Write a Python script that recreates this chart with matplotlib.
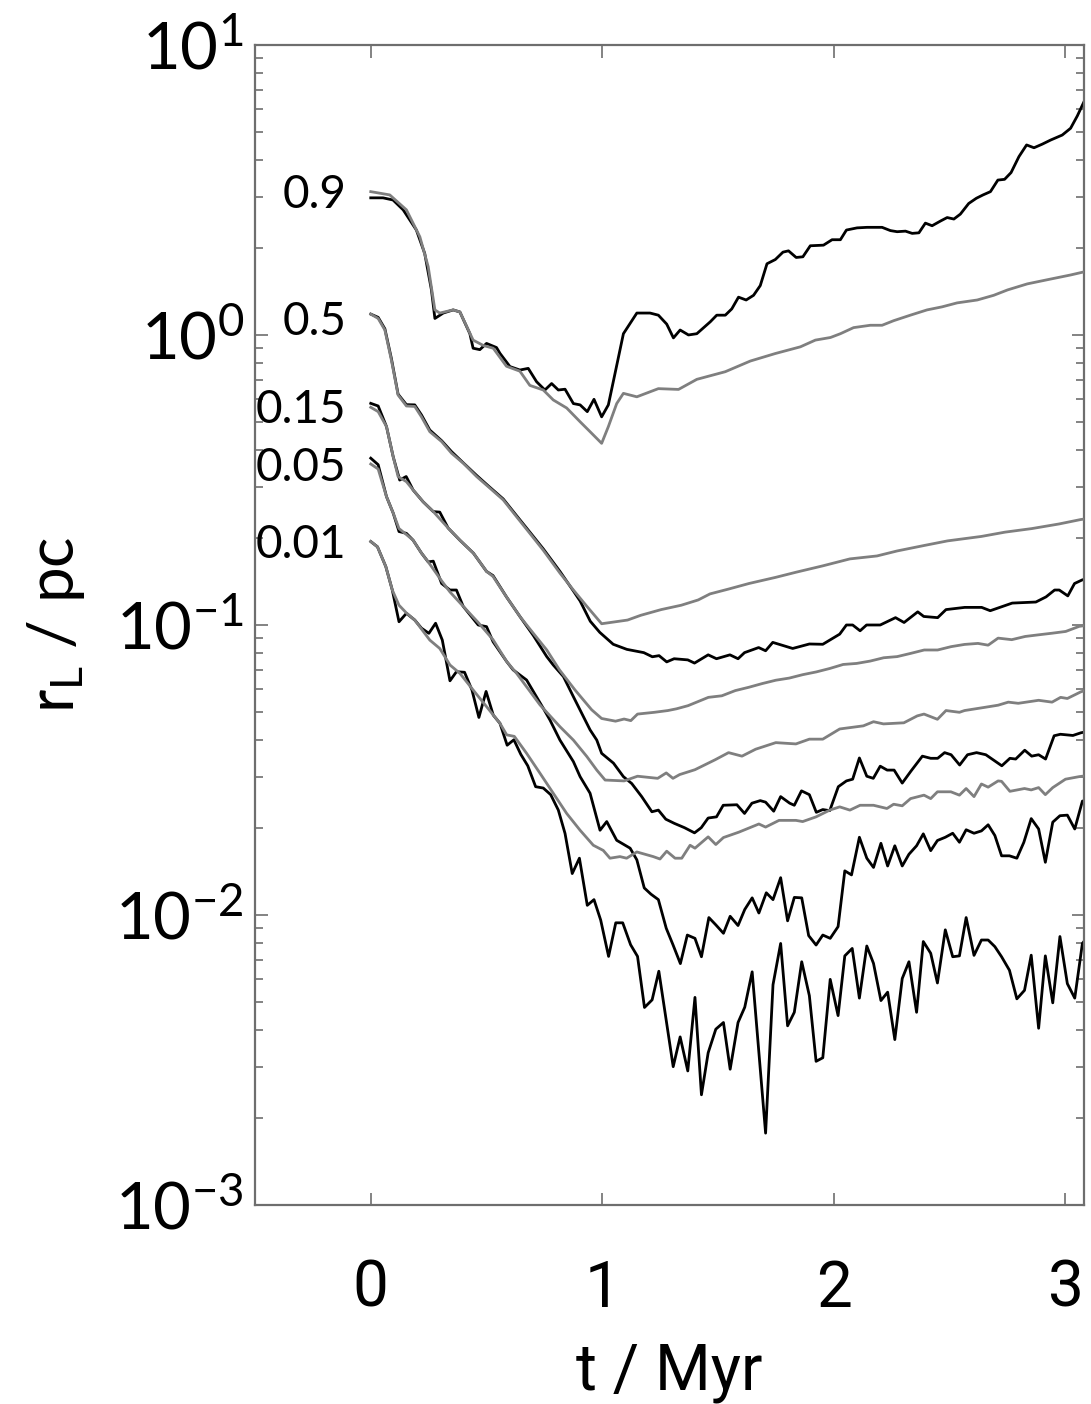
import numpy as np
import matplotlib
matplotlib.use("Agg")
import matplotlib.pyplot as plt
from matplotlib.ticker import LogLocator, NullFormatter, FixedLocator

plt.rcParams["font.family"] = ["Lato", "DejaVu Sans"]
plt.rcParams["mathtext.fontset"] = "custom"
plt.rcParams["mathtext.rm"] = "Lato"
plt.rcParams["mathtext.it"] = "Lato:italic"

# Lagrangian radii (t in Myr, r in pc); black = run with stars, gray = reference run
b90 = [(0.0, 2.97), (0.053, 2.97), (0.096, 2.92), (0.14, 2.70), (0.197, 2.30), (0.233, 1.91),
       (0.262, 1.43), (0.277, 1.14), (0.313, 1.19), (0.356, 1.22), (0.385, 1.20), (0.428, 1.01),
       (0.442, 0.90), (0.471, 0.89), (0.5, 0.935), (0.543, 0.905), (0.558, 0.864), (0.601, 0.778),
       (0.644, 0.757), (0.68, 0.767), (0.716, 0.69), (0.752, 0.646), (0.781, 0.68), (0.81, 0.646),
       (0.839, 0.65), (0.875, 0.58), (0.904, 0.574), (0.935, 0.544), (0.964, 0.60), (0.997, 0.522),
       (1.026, 0.574), (1.055, 0.738), (1.091, 1.01), (1.149, 1.19), (1.206, 1.19), (1.242, 1.17),
       (1.278, 1.09), (1.307, 0.977), (1.336, 1.04), (1.372, 1.0), (1.408, 1.01), (1.466, 1.11),
       (1.494, 1.17), (1.531, 1.17), (1.559, 1.23), (1.588, 1.35), (1.621, 1.32), (1.653, 1.37),
       (1.682, 1.48), (1.711, 1.76), (1.747, 1.82), (1.78, 1.93), (1.804, 1.95), (1.837, 1.85),
       (1.866, 1.86), (1.898, 2.03), (1.955, 2.04), (1.992, 2.13), (2.028, 2.13), (2.054, 2.30),
       (2.1, 2.34), (2.143, 2.35), (2.208, 2.35), (2.244, 2.29), (2.273, 2.27), (2.309, 2.28),
       (2.338, 2.24), (2.367, 2.25), (2.395, 2.43), (2.424, 2.38), (2.46, 2.47), (2.489, 2.54),
       (2.518, 2.51), (2.546, 2.61), (2.582, 2.84), (2.615, 2.96), (2.644, 3.04), (2.676, 3.12),
       (2.708, 3.42), (2.737, 3.44), (2.765, 3.63), (2.799, 4.12), (2.832, 4.52), (2.864, 4.42),
       (2.9, 4.55), (2.936, 4.70), (2.986, 4.89), (3.022, 5.16), (3.051, 5.69), (3.094, 6.73)]

g90 = [(0.0, 3.12), (0.082, 3.04), (0.154, 2.70), (0.212, 2.18), (0.248, 1.72), (0.277, 1.22),
       (0.298, 1.19), (0.356, 1.22), (0.385, 1.20), (0.442, 0.96), (0.486, 0.92), (0.529, 0.90),
       (0.586, 0.78), (0.644, 0.75), (0.687, 0.67), (0.745, 0.646), (0.788, 0.597), (0.846, 0.56),
       (0.904, 0.502), (0.947, 0.464), (0.997, 0.423), (1.026, 0.483), (1.062, 0.58), (1.091, 0.629),
       (1.149, 0.612), (1.242, 0.653), (1.329, 0.649), (1.408, 0.703), (1.531, 0.747), (1.639, 0.813),
       (1.747, 0.863), (1.855, 0.91), (1.92, 0.96), (1.985, 0.98), (2.028, 1.01), (2.085, 1.06),
       (2.157, 1.08), (2.208, 1.08), (2.258, 1.12), (2.33, 1.17), (2.402, 1.22), (2.467, 1.25),
       (2.532, 1.29), (2.619, 1.32), (2.69, 1.37), (2.75, 1.43), (2.835, 1.50), (2.921, 1.55),
       (3.022, 1.61), (3.094, 1.66)]

b50 = [(0.0, 1.18), (0.032, 1.15), (0.061, 1.05), (0.089, 0.83), (0.118, 0.625), (0.154, 0.575),
       (0.19, 0.574), (0.219, 0.53), (0.255, 0.47), (0.306, 0.432), (0.349, 0.396), (0.4, 0.362),
       (0.457, 0.328), (0.507, 0.302), (0.572, 0.272), (0.63, 0.238), (0.687, 0.209), (0.745, 0.183),
       (0.817, 0.153), (0.875, 0.131), (0.904, 0.121), (0.948, 0.103), (0.989, 0.0943),
       (1.047, 0.0858), (1.106, 0.0824), (1.179, 0.0803), (1.216, 0.0777), (1.245, 0.0784),
       (1.278, 0.0746), (1.31, 0.0765), (1.369, 0.0758), (1.398, 0.0739), (1.457, 0.0789),
       (1.493, 0.0765), (1.551, 0.0789), (1.586, 0.0765), (1.614, 0.0803), (1.675, 0.0836),
       (1.705, 0.0815), (1.736, 0.0871), (1.822, 0.083), (1.894, 0.086), (1.952, 0.0858),
       (2.025, 0.093), (2.054, 0.1), (2.081, 0.1), (2.113, 0.0955), (2.141, 0.1), (2.2, 0.1),
       (2.266, 0.106), (2.303, 0.102), (2.362, 0.111), (2.388, 0.107), (2.448, 0.106),
       (2.484, 0.113), (2.565, 0.115), (2.638, 0.115), (2.675, 0.112), (2.77, 0.119),
       (2.872, 0.12), (2.916, 0.125), (2.953, 0.132), (2.973, 0.132), (3.01, 0.126),
       (3.039, 0.139), (3.072, 0.143), (3.1, 0.145)]

g50 = [(0.0, 1.18), (0.032, 1.14), (0.061, 1.04), (0.089, 0.82), (0.118, 0.621), (0.154, 0.569),
       (0.19, 0.567), (0.219, 0.522), (0.255, 0.464), (0.306, 0.429), (0.349, 0.391), (0.4, 0.361),
       (0.457, 0.325), (0.507, 0.30), (0.572, 0.27), (0.63, 0.236), (0.687, 0.207), (0.745, 0.181),
       (0.817, 0.151), (0.875, 0.132), (0.933, 0.116), (0.997, 0.101), (1.109, 0.104),
       (1.166, 0.108), (1.254, 0.113), (1.341, 0.117), (1.414, 0.122), (1.465, 0.128),
       (1.545, 0.133), (1.633, 0.139), (1.749, 0.146), (1.836, 0.152), (1.953, 0.16),
       (2.069, 0.169), (2.186, 0.173), (2.273, 0.18), (2.39, 0.188), (2.491, 0.195),
       (2.637, 0.202), (2.739, 0.209), (2.855, 0.215), (2.972, 0.223), (3.066, 0.231), (3.1, 0.233)]

b15 = [(0.0, 0.581), (0.032, 0.569), (0.068, 0.483), (0.097, 0.38), (0.125, 0.316), (0.153, 0.325),
       (0.183, 0.292), (0.226, 0.266), (0.27, 0.246), (0.298, 0.245), (0.334, 0.216), (0.385, 0.196),
       (0.443, 0.177), (0.5, 0.153), (0.528, 0.148), (0.586, 0.125), (0.644, 0.107), (0.702, 0.092),
       (0.76, 0.0778), (0.788, 0.0728), (0.832, 0.0664), (0.875, 0.0566), (0.904, 0.0509),
       (0.947, 0.0435), (0.976, 0.0401), (0.997, 0.0361), (1.048, 0.0334), (1.091, 0.030),
       (1.127, 0.0284), (1.17, 0.0256), (1.214, 0.0227), (1.242, 0.023), (1.274, 0.0214),
       (1.311, 0.0207), (1.355, 0.020), (1.398, 0.0192), (1.427, 0.020), (1.457, 0.0216),
       (1.493, 0.0218), (1.522, 0.0239), (1.581, 0.024), (1.614, 0.0224), (1.646, 0.0243),
       (1.682, 0.0248), (1.705, 0.0245), (1.74, 0.0228), (1.77, 0.0256), (1.809, 0.0243),
       (1.829, 0.0239), (1.86, 0.0268), (1.894, 0.026), (1.924, 0.0226), (1.952, 0.0231),
       (1.982, 0.0229), (2.019, 0.0277), (2.054, 0.029), (2.081, 0.0294), (2.11, 0.0348),
       (2.142, 0.0301), (2.17, 0.0296), (2.2, 0.0326), (2.23, 0.0316), (2.26, 0.0316),
       (2.295, 0.0285), (2.332, 0.0313), (2.382, 0.0353), (2.418, 0.0347), (2.448, 0.0347),
       (2.478, 0.0363), (2.506, 0.0357), (2.543, 0.0329), (2.577, 0.0357), (2.616, 0.0363),
       (2.656, 0.0357), (2.725, 0.0327), (2.76, 0.0347), (2.785, 0.0345), (2.824, 0.037),
       (2.854, 0.0353), (2.884, 0.0357), (2.914, 0.0345), (2.951, 0.0415), (2.978, 0.042),
       (3.032, 0.0416), (3.067, 0.0425), (3.1, 0.043)]

g15 = [(0.0, 0.563), (0.032, 0.544), (0.068, 0.483), (0.097, 0.38), (0.118, 0.325), (0.154, 0.312),
       (0.183, 0.292), (0.226, 0.266), (0.27, 0.246), (0.334, 0.216), (0.385, 0.196), (0.443, 0.177),
       (0.5, 0.153), (0.528, 0.147), (0.586, 0.125), (0.644, 0.107), (0.702, 0.0936), (0.76, 0.082),
       (0.815, 0.07), (0.882, 0.0597), (0.954, 0.051), (0.997, 0.0476), (1.057, 0.0466),
       (1.094, 0.0474), (1.123, 0.0468), (1.152, 0.0493), (1.225, 0.05), (1.283, 0.0507),
       (1.32, 0.0514), (1.37, 0.0527), (1.458, 0.0563), (1.516, 0.057), (1.574, 0.0594),
       (1.633, 0.061), (1.69, 0.0628), (1.749, 0.0645), (1.807, 0.0656), (1.865, 0.0674),
       (1.924, 0.0689), (1.982, 0.0708), (2.04, 0.0731), (2.098, 0.0737), (2.157, 0.0751),
       (2.215, 0.0771), (2.273, 0.0778), (2.331, 0.0798), (2.39, 0.082), (2.448, 0.082),
       (2.506, 0.0842), (2.564, 0.0857), (2.622, 0.0864), (2.666, 0.0852), (2.709, 0.0901),
       (2.768, 0.089), (2.826, 0.0913), (2.884, 0.0925), (2.943, 0.0937), (3.001, 0.095),
       (3.059, 0.0989), (3.1, 0.1)]

b05 = [(0.0, 0.376), (0.032, 0.357), (0.068, 0.277), (0.097, 0.243), (0.122, 0.21), (0.154, 0.207),
       (0.183, 0.196), (0.219, 0.177), (0.248, 0.165), (0.27, 0.166), (0.306, 0.139), (0.342, 0.132),
       (0.37, 0.132), (0.399, 0.116), (0.464, 0.1), (0.5, 0.0987), (0.528, 0.0876), (0.587, 0.0748),
       (0.615, 0.07), (0.673, 0.0646), (0.745, 0.0516), (0.774, 0.047), (0.817, 0.0401),
       (0.875, 0.0338), (0.904, 0.030), (0.947, 0.0263), (0.99, 0.0196), (1.019, 0.021),
       (1.062, 0.0181), (1.12, 0.017), (1.149, 0.0155), (1.181, 0.0124), (1.21, 0.0118),
       (1.242, 0.0113), (1.276, 0.009), (1.305, 0.0079), (1.337, 0.0068), (1.367, 0.00853),
       (1.40, 0.00831), (1.428, 0.00718), (1.46, 0.0098), (1.49, 0.00925), (1.523, 0.00865),
       (1.552, 0.0099), (1.586, 0.0092), (1.615, 0.01045), (1.647, 0.01146), (1.676, 0.01016),
       (1.708, 0.01193), (1.737, 0.0113), (1.77, 0.01345), (1.8, 0.00955), (1.829, 0.0115),
       (1.861, 0.01146), (1.891, 0.00849), (1.923, 0.00788), (1.952, 0.00853), (1.984, 0.00831),
       (2.018, 0.00912), (2.047, 0.0142), (2.076, 0.01375), (2.11, 0.01854), (2.142, 0.0157),
       (2.171, 0.01459), (2.203, 0.01767), (2.232, 0.01476), (2.263, 0.01733), (2.295, 0.01476),
       (2.324, 0.0162), (2.357, 0.01733), (2.386, 0.01905), (2.418, 0.01667), (2.447, 0.01807),
       (2.481, 0.01854), (2.513, 0.01914), (2.542, 0.01782), (2.571, 0.01968), (2.605, 0.01914),
       (2.637, 0.0195), (2.666, 0.02047), (2.695, 0.0188), (2.724, 0.016), (2.758, 0.016),
       (2.79, 0.0157), (2.82, 0.0178), (2.852, 0.0215), (2.884, 0.0198), (2.913, 0.0152),
       (2.945, 0.0209), (2.976, 0.022), (3.008, 0.0221), (3.04, 0.0198), (3.073, 0.0247), (3.1, 0.025)]

g05 = [(0.0, 0.359), (0.032, 0.345), (0.068, 0.277), (0.097, 0.243), (0.122, 0.215), (0.154, 0.205),
       (0.183, 0.196), (0.219, 0.177), (0.248, 0.165), (0.306, 0.142), (0.342, 0.13), (0.399, 0.116),
       (0.464, 0.102), (0.528, 0.089), (0.587, 0.0748), (0.63, 0.0681), (0.731, 0.053),
       (0.817, 0.0446), (0.875, 0.0401), (0.933, 0.0352), (0.976, 0.0316), (1.012, 0.0292),
       (1.094, 0.029), (1.152, 0.0301), (1.239, 0.0296), (1.276, 0.0309), (1.305, 0.0296),
       (1.334, 0.0305), (1.4, 0.0317), (1.487, 0.0343), (1.545, 0.0363), (1.603, 0.0353),
       (1.662, 0.0373), (1.749, 0.0393), (1.836, 0.0389), (1.894, 0.0404), (1.952, 0.0404),
       (2.025, 0.0438), (2.127, 0.0449), (2.171, 0.0464), (2.214, 0.0456), (2.302, 0.046),
       (2.36, 0.0486), (2.389, 0.0493), (2.447, 0.0473), (2.484, 0.0507), (2.542, 0.05),
       (2.564, 0.0507), (2.651, 0.052), (2.709, 0.0529), (2.753, 0.0542), (2.796, 0.0537),
       (2.884, 0.055), (2.942, 0.0542), (2.979, 0.0563), (3.008, 0.0558), (3.066, 0.0588), (3.1, 0.06)]

b01 = [(0.0, 0.194), (0.029, 0.186), (0.065, 0.159), (0.093, 0.132), (0.122, 0.1026), (0.154, 0.1097),
       (0.19, 0.104), (0.219, 0.0975), (0.251, 0.0936), (0.28, 0.1014), (0.309, 0.0887),
       (0.342, 0.0642), (0.37, 0.069), (0.405, 0.0687), (0.437, 0.0597), (0.467, 0.048),
       (0.498, 0.059), (0.529, 0.0489), (0.558, 0.0458), (0.589, 0.0385), (0.618, 0.0402),
       (0.648, 0.0358), (0.678, 0.0327), (0.712, 0.0277), (0.745, 0.0274), (0.777, 0.026),
       (0.81, 0.023), (0.839, 0.0191), (0.87, 0.0139), (0.901, 0.0157), (0.935, 0.0108),
       (0.964, 0.0113), (0.993, 0.0096), (1.027, 0.0072), (1.058, 0.0094), (1.088, 0.0094),
       (1.122, 0.0079), (1.152, 0.0072), (1.182, 0.0048), (1.215, 0.0051), (1.244, 0.0064),
       (1.306, 0.0030), (1.336, 0.0038), (1.369, 0.0029), (1.40, 0.0052), (1.428, 0.0024),
       (1.457, 0.00335), (1.49, 0.00404), (1.523, 0.00426), (1.552, 0.00294), (1.586, 0.00426),
       (1.615, 0.00481), (1.647, 0.00637), (1.705, 0.00177), (1.737, 0.00575), (1.77, 0.00798),
       (1.8, 0.00415), (1.829, 0.00462), (1.861, 0.0069), (1.894, 0.00527), (1.923, 0.00313),
       (1.952, 0.00322), (1.984, 0.006), (2.018, 0.0045), (2.047, 0.00723), (2.079, 0.00767),
       (2.11, 0.00517), (2.142, 0.00782), (2.171, 0.00681), (2.203, 0.00507), (2.232, 0.00542),
       (2.263, 0.00372), (2.295, 0.00604), (2.324, 0.0069), (2.357, 0.00462), (2.386, 0.0081),
       (2.418, 0.00738), (2.447, 0.00583), (2.481, 0.00889), (2.513, 0.00718), (2.542, 0.00723),
       (2.571, 0.0098), (2.605, 0.00726), (2.637, 0.0082), (2.666, 0.0082), (2.695, 0.00778),
       (2.724, 0.00718), (2.758, 0.00645), (2.79, 0.00514), (2.823, 0.0055), (2.852, 0.00727),
       (2.884, 0.00407), (2.913, 0.00723), (2.945, 0.00498), (2.976, 0.00843), (3.008, 0.0058),
       (3.04, 0.00517), (3.073, 0.00798), (3.1, 0.0085)]

g01 = [(0.0, 0.194), (0.029, 0.186), (0.065, 0.159), (0.093, 0.132), (0.122, 0.117), (0.154, 0.11),
       (0.19, 0.104), (0.255, 0.0887), (0.298, 0.083), (0.342, 0.0728), (0.385, 0.0681),
       (0.442, 0.0597), (0.5, 0.0523), (0.558, 0.0458), (0.587, 0.0418), (0.62, 0.0413),
       (0.673, 0.0361), (0.731, 0.0308), (0.788, 0.0263), (0.846, 0.0224), (0.904, 0.0196),
       (0.961, 0.0174), (1.004, 0.0167), (1.033, 0.0157), (1.076, 0.0159), (1.105, 0.0157),
       (1.149, 0.0165), (1.22, 0.0159), (1.249, 0.0156), (1.278, 0.0166), (1.314, 0.0157),
       (1.343, 0.0157), (1.379, 0.0174), (1.4, 0.017), (1.457, 0.0186), (1.49, 0.0175),
       (1.523, 0.0185), (1.589, 0.0193), (1.676, 0.0206), (1.705, 0.0201), (1.763, 0.0212),
       (1.836, 0.0212), (1.865, 0.021), (1.923, 0.0218), (1.982, 0.023), (2.025, 0.0236),
       (2.069, 0.023), (2.113, 0.0239), (2.171, 0.0239), (2.229, 0.0233), (2.258, 0.0241),
       (2.295, 0.0238), (2.331, 0.0252), (2.389, 0.0259), (2.418, 0.0252), (2.447, 0.0266),
       (2.505, 0.0266), (2.542, 0.0259), (2.571, 0.0273), (2.605, 0.0256), (2.637, 0.0283),
       (2.666, 0.0276), (2.709, 0.029), (2.724, 0.0289), (2.76, 0.0267), (2.823, 0.0273),
       (2.852, 0.027), (2.884, 0.0275), (2.913, 0.026), (2.945, 0.0275), (3.0, 0.0294),
       (3.059, 0.03), (3.1, 0.0303)]

# curve labels (mass fraction) and the radius they sit at
labels = ["0.9", "0.5", "0.15", "0.05", "0.01"]
label_r = [3.04, 1.11, 0.55, 0.348, 0.189]

black_runs = [b90, b50, b15, b05, b01]
gray_runs = [g90, g50, g15, g05, g01]

fig = plt.figure(figsize=(10.91, 14.04), dpi=100)
ax = fig.add_axes([0.2337, 0.1417, 0.7599, 0.8263])

for run in black_runs:
    d = np.array(run)
    ax.plot(d[:, 0], d[:, 1], color="black", lw=2.0, zorder=2)
for run in gray_runs:
    d = np.array(run)
    ax.plot(d[:, 0], d[:, 1], color="#7f7f7f", lw=2.0, zorder=3)

for txt, r in zip(labels, label_r):
    ax.text(-0.105, r, txt, ha="right", va="center", fontsize=33)

ax.set_yscale("log")
ax.set_ylim(1e-3, 10)
ax.set_xlim(-0.5, 3.08)
ax.xaxis.set_major_locator(FixedLocator([0, 1, 2, 3]))
ax.yaxis.set_major_locator(LogLocator(base=10, numticks=10))
ax.yaxis.set_minor_locator(LogLocator(base=10, subs=np.arange(2, 10), numticks=20))
ax.yaxis.set_minor_formatter(NullFormatter())

spine_col = "#6e6e6e"
for s in ax.spines.values():
    s.set_color(spine_col)
    s.set_linewidth(1.6)

ax.tick_params(which="both", direction="in", top=True, right=True, color=spine_col, width=1.2)
ax.tick_params(which="major", length=9)
ax.tick_params(which="minor", length=6)
ax.tick_params(axis="y", labelsize=47, pad=8)
ax.tick_params(axis="x", labelsize=46, pad=38)

# narrower face for the time axis
narrow = ["Roboto", "DejaVu Sans"]
for lbl in ax.get_xticklabels():
    lbl.set_fontfamily(narrow)

ax.set_xlabel("t / Myr", fontsize=46, labelpad=15, fontfamily=narrow)
ax.set_ylabel(r"r$_\mathregular{L}$ / pc", fontsize=46, labelpad=20)

fig.savefig("out.png", dpi=100)
